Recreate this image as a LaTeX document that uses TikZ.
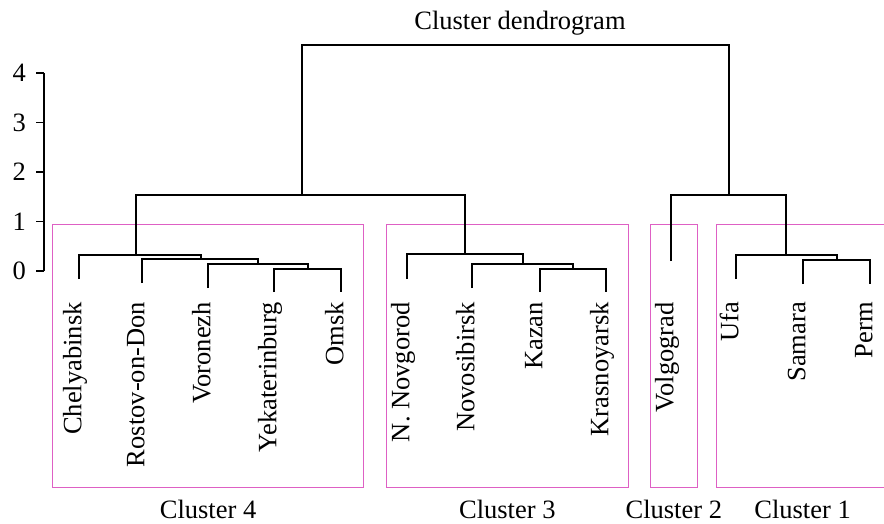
\documentclass[tikz,border=0pt]{standalone}
\usepackage{fontspec}
\setmainfont{Liberation Serif}
\usetikzlibrary{positioning}
\definecolor{boxpink}{RGB}{222,96,196}
\tikzset{
  link/.style={line width=2.1pt},
  axisline/.style={line width=1.5pt},
  clbox/.style={draw=boxpink,line width=1.2pt,anchor=north west,minimum height=263pt},
  city/.style={rotate=90,anchor=east,inner sep=0pt,text height=0.68em,text depth=0.22em},
  cltext/.style={inner sep=0pt,below=12pt of #1},
}

\begin{document}
\begin{tikzpicture}[x=1pt,y=-1pt,font=\fontsize{26.5}{30}\selectfont]
          \useasboundingbox (0,0) rectangle (884,523);
          \node[anchor=base] (title) at (520,29) {Cluster dendrogram};
          % height axis
          \coordinate (ax0) at (44,271);
          \coordinate (ax4) at (44,73);
          \draw[axisline] (ax0) -- (ax4);
          \foreach \v in {0,...,4}{
            \coordinate (tk\v) at (44,{271-49.5*\v});
            \draw[axisline] (tk\v) -- ++(-8,0);
            \node[anchor=east,inner sep=0pt] (lab\v) at (26,{271-49.5*\v}) {\v};
          }
          % cluster boxes
          \node[clbox,minimum width=311pt] (box4) at (52,224) {};
          \node[clbox,minimum width=242.5pt] (box3) at (385.5,224) {};
          \node[clbox,minimum width=46.5pt] (box2) at (650,224) {};
          \node[clbox,minimum width=172pt] (box1) at (716,224) {};
          \node[cltext=box4] (name4) {Cluster 4};
          \node[cltext=box3] (name3) {Cluster 3};
          \node[cltext=box2] (name2) {Cluster 2};
          \node[cltext=box1] (name1) {Cluster 1};
          % leaves
          \node[city] (chel) at (79,302) {Chelyabinsk};
          \node[city] (rost) at (142,302) {Rostov-on-Don};
          \node[city] (voro) at (208,302) {Voronezh};
          \node[city] (yeka) at (274,302) {Yekaterinburg};
          \node[city] (omsk) at (341,302) {Omsk};
          \node[city] (novg) at (407,302) {N. Novgorod};
          \node[city] (novo) at (472,302) {Novosibirsk};
          \node[city] (kaza) at (540,302) {Kazan};
          \node[city] (kras) at (606,302) {Krasnoyarsk};
          \node[city] (volg) at (671,302) {Volgograd};
          \node[city] (ufa) at (736,302) {Ufa};
          \node[city] (sama) at (803,302) {Samara};
          \node[city] (perm) at (870,302) {Perm};
          \coordinate (chelE) at (79,279);
          \coordinate (rostE) at (142,283);
          \coordinate (voroE) at (208,288);
          \coordinate (yekaE) at (274,292);
          \coordinate (omskE) at (341,292);
          \coordinate (novgE) at (407,279);
          \coordinate (novoE) at (472,288);
          \coordinate (kazaE) at (540,292);
          \coordinate (krasE) at (606,292);
          \coordinate (volgE) at (671,261);
          \coordinate (ufaE) at (736,279);
          \coordinate (samaE) at (803,284);
          \coordinate (permE) at (870,284);
          % merges
          \coordinate (m4d) at (308,268.7);
          \coordinate (m4c) at (258,263.7);
          \coordinate (m4b) at (201,259);
          \coordinate (m4a) at (136,254.7);
          \coordinate (m3c) at (573,268.7);
          \coordinate (m3b) at (523,263.7);
          \coordinate (m3a) at (465,254.3);
          \coordinate (m1b) at (837,260);
          \coordinate (m1a) at (786,255);
          \coordinate (mL) at (302,195);
          \coordinate (mR) at (729,195);
          \coordinate (root) at (515,45);
          \draw[link] (yekaE) |- (m4d) -| (omskE);
          \draw[link] (voroE) |- (m4c) -| (m4d);
          \draw[link] (rostE) |- (m4b) -| (m4c);
          \draw[link] (chelE) |- (m4a) -| (m4b);
          \draw[link] (kazaE) |- (m3c) -| (krasE);
          \draw[link] (novoE) |- (m3b) -| (m3c);
          \draw[link] (novgE) |- (m3a) -| (m3b);
          \draw[link] (samaE) |- (m1b) -| (permE);
          \draw[link] (ufaE) |- (m1a) -| (m1b);
          \draw[link] (m4a) |- (mL) -| (m3a);
          \draw[link] (volgE) |- (mR) -| (m1a);
          \draw[link] (mL) |- (root) -| (mR);
        \end{tikzpicture}
\end{document}
